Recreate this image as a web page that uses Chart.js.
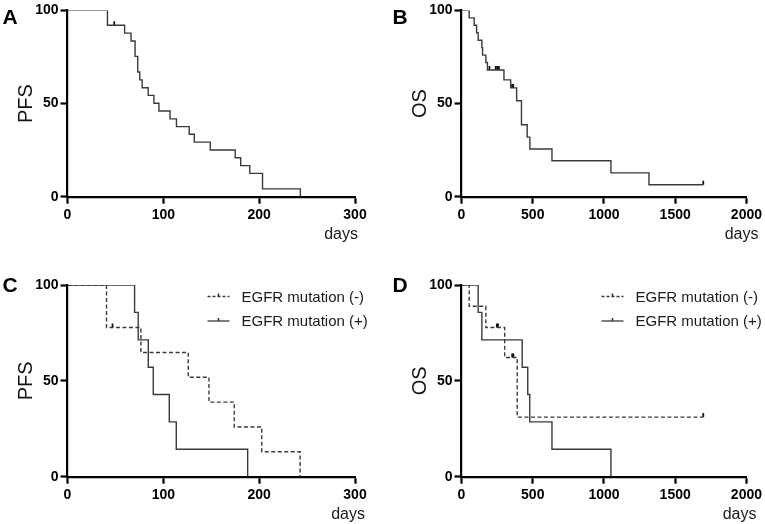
<!DOCTYPE html>
<html>
<head>
<meta charset="utf-8">
<script src="https://cdn.jsdelivr.net/npm/chart.js@4.4.1/dist/chart.umd.min.js"></script>
<style>
    html, body { margin: 0; padding: 0; background: #fff; }
    #wrap { position: relative; width: 765px; height: 524px; overflow: hidden; }
    #wrap canvas { position: absolute; }
</style>
</head>
<body>
<div id="wrap">
    <canvas id="chart-a" width="371" height="244" style="left:0;top:0"></canvas>
    <canvas id="chart-b" width="375" height="244" style="left:390px;top:0"></canvas>
    <canvas id="chart-c" width="371" height="254" style="left:0;top:270px"></canvas>
    <canvas id="chart-d" width="375" height="254" style="left:390px;top:270px"></canvas>
</div>
<script>
// A - PFS, all patients (days / %)
var pfsAllDays = [0, 41.7, 59.6, 66.3, 70.5, 73.3, 75.4, 77.9, 84.2, 90.2, 95.4, 107, 113.7, 127, 132.3, 149, 175, 180.7, 190.2, 203.5, 243];
var pfsAllValues = [100, 92, 87.8, 83.6, 75.3, 66.9, 62.7, 58.5, 54.4, 50.2, 46, 41.8, 37.6, 33.5, 29.3, 25.1, 20.9, 16.7, 12.5, 4.2, 0];
var pfsAllCensorDays = [48.8];
var pfsAllCensorValues = [92];

// B - OS, all patients
var osAllDays = [0, 54, 89, 106, 117, 143, 148, 171, 182, 298, 345, 387, 421, 461, 480, 635, 1049, 1316, 1697];
var osAllValues = [100, 96, 92, 88, 84, 80, 76, 72, 68, 62.7, 58.4, 51.5, 38.6, 32, 25.6, 19.3, 12.8, 6.4, 6.4];
var osAllCensorDays = [196, 240, 251, 262, 355, 363, 1697];
var osAllCensorValues = [68, 68, 68, 68, 58.4, 58.4, 6.4];

// C - PFS by EGFR mutation
var pfsNegDays = [0, 40.7, 76.6, 126, 147.6, 174, 202.7, 242.7];
var pfsNegValues = [100, 77.8, 64.8, 51.9, 38.9, 25.9, 13, 0];
var pfsNegCensorDays = [47];
var pfsNegCensorValues = [77.8];
var pfsPosDays = [0, 70, 73.8, 84.3, 89.5, 106.2, 113.5, 188];
var pfsPosValues = [100, 85.7, 71.4, 57.1, 42.9, 28.6, 14.3, 0];

// D - OS by EGFR mutation
var osNegDays = [0, 54, 171, 303, 391, 1697];
var osNegValues = [100, 88.9, 77.8, 62.2, 31.1, 31.1];
var osNegCensorDays = [248, 256, 356, 364, 1697];
var osNegCensorValues = [77.8, 77.8, 62.2, 62.2, 31.1];
var osPosDays = [0, 117, 143, 426, 465, 479, 635, 1049];
var osPosValues = [100, 85.7, 71.4, 57.1, 42.9, 28.6, 14.3, 0];

var legendLabels = ['EGFR mutation (-)', 'EGFR mutation (+)'];

var FONT = '"Liberation Sans", Arial, sans-serif';
Chart.defaults.font.family = FONT;

function toPoints(days, values) {
    return days.map(function (d, i) {
        return {x: d, y: values[i]};
    });
}

function kmLine(days, values, dashed) {
    return {
        data: toPoints(days, values),
        stepped: true,
        borderColor: '#3a3a3a',
        borderWidth: 1.4,
        borderDash: dashed ? [4, 2.5] : [],
        pointRadius: 0,
        fill: false
    };
}

function censorMarks(days, values) {
    return {
        data: toPoints(days, values),
        showLine: false,
        pointStyle: 'dash',
        pointRotation: 270,
        pointRadius: 4,
        pointBorderWidth: 1.8,
        pointBorderColor: '#111',
        pointBackgroundColor: '#111',
        clip: false
    };
}

// panel letter, "days" unit and the EGFR legend
var panelDeco = {
    id: 'panelDeco',
    afterDraw: function (chart, args, opts) {
        var ctx = chart.ctx;
        var area = chart.chartArea;
        ctx.save();
        ctx.textBaseline = 'middle';

        ctx.fillStyle = '#000';
        ctx.font = 'bold 21px ' + FONT;
        ctx.textAlign = 'left';
        ctx.fillText(opts.letter, 2.5, area.top + opts.letterDy);

        ctx.fillStyle = '#1a1a1a';
        ctx.font = '16px ' + FONT;
        ctx.textAlign = 'right';
        ctx.fillText('days', area.right + opts.daysDx, area.bottom + 37.5);

        if (opts.legend) {
            ctx.font = '15px ' + FONT;
            ctx.textAlign = 'left';
            legendLabels.forEach(function (text, i) {
                var y = area.top + 11.5 + i * 24.5;
                var x1 = area.left + 140;
                var x2 = area.left + 162;
                ctx.strokeStyle = '#3a3a3a';
                ctx.lineWidth = 1.3;
                ctx.setLineDash(i === 0 ? [3, 2] : []);
                ctx.beginPath();
                ctx.moveTo(x1, y);
                ctx.lineTo(x2, y);
                ctx.stroke();
                ctx.setLineDash([]);
                ctx.lineWidth = 1.6;
                ctx.beginPath();
                ctx.moveTo((x1 + x2) / 2, y);
                ctx.lineTo((x1 + x2) / 2, y - 3);
                ctx.stroke();
                ctx.fillStyle = '#1a1a1a';
                ctx.fillText(text, area.left + 174, y + 1);
            });
        }
        ctx.restore();
    }
};

function kmChart(id, datasets, cfg) {
    return new Chart(document.getElementById(id), {
        type: 'line',
        data: {datasets: datasets},
        plugins: [panelDeco],
        options: {
            responsive: false,
            animation: false,
            events: [],
            layout: {padding: {left: cfg.padLeft, top: cfg.padTop, right: cfg.padRight, bottom: 0}},
            plugins: {
                legend: {display: false},
                tooltip: {enabled: false},
                panelDeco: cfg.deco
            },
            scales: {
                x: {
                    type: 'linear',
                    min: 0,
                    max: cfg.xMax,
                    afterFit: function (scale) { scale.height = 47.3; },
                    grid: {drawOnChartArea: false, tickLength: 7, tickColor: '#000', tickWidth: 2.2},
                    border: {color: '#000', width: 2.2},
                    ticks: {
                        stepSize: cfg.xStep,
                        padding: 3,
                        color: '#000',
                        font: {size: 14, weight: 'bold'},
                        callback: function (v) { return String(v); }
                    }
                },
                y: {
                    min: 0,
                    max: 100,
                    afterFit: function (scale) { scale.width = 67.5; },
                    grid: {drawOnChartArea: false, tickLength: 7, tickColor: '#000', tickWidth: 2.2},
                    border: {color: '#000', width: 2.2},
                    ticks: {
                        stepSize: 50,
                        padding: 2,
                        color: '#000',
                        font: {size: 14, weight: 'bold'}
                    },
                    title: {
                        display: true,
                        text: cfg.yTitle,
                        color: '#111',
                        font: {size: 20},
                        padding: {top: 14.5, bottom: 0}
                    }
                }
            }
        }
    });
}

kmChart('chart-a', [
    kmLine(pfsAllDays, pfsAllValues, false),
    censorMarks(pfsAllCensorDays, pfsAllCensorValues)
], {padLeft: 0, padTop: 5, padRight: 16, xMax: 300, xStep: 100, yTitle: 'PFS',
    deco: {letter: 'A', letterDy: 8, daysDx: 3}});

kmChart('chart-b', [
    kmLine(osAllDays, osAllValues, false),
    censorMarks(osAllCensorDays, osAllCensorValues)
], {padLeft: 4, padTop: 5, padRight: 17, xMax: 2000, xStep: 500, yTitle: 'OS',
    deco: {letter: 'B', letterDy: 8, daysDx: 12}});

kmChart('chart-c', [
    kmLine(pfsNegDays, pfsNegValues, true),
    kmLine(pfsPosDays, pfsPosValues, false),
    censorMarks(pfsNegCensorDays, pfsNegCensorValues)
], {padLeft: 0, padTop: 15, padRight: 16, xMax: 300, xStep: 100, yTitle: 'PFS',
    deco: {letter: 'C', letterDy: 1, daysDx: 10, legend: true}});

kmChart('chart-d', [
    kmLine(osNegDays, osNegValues, true),
    kmLine(osPosDays, osPosValues, false),
    censorMarks(osNegCensorDays, osNegCensorValues)
], {padLeft: 4, padTop: 15, padRight: 17, xMax: 2000, xStep: 500, yTitle: 'OS',
    deco: {letter: 'D', letterDy: 1, daysDx: 10, legend: true}});
</script>
</body>
</html>
